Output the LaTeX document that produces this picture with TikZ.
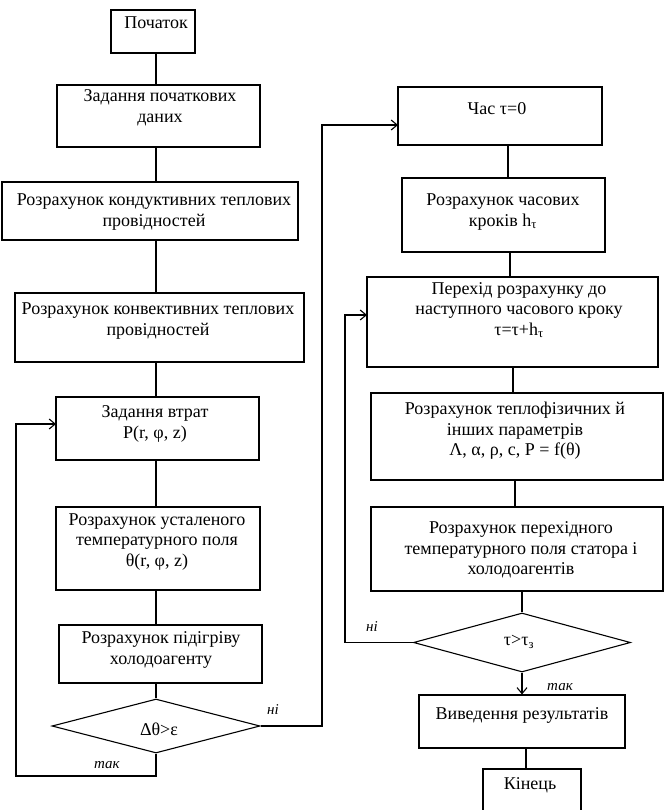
\documentclass[tikz,border=0pt]{standalone}
\usepackage{fontspec}
\setmainfont{Liberation Serif}
\usetikzlibrary{arrows.meta,shapes.geometric}
\begin{document}
\begin{tikzpicture}[x=1pt,y=-1pt, line width=1.1pt,
  box/.style={draw, rectangle, inner sep=0pt},
  dec/.style={draw, diamond, inner sep=0pt},
  txt/.style={align=center, inner sep=0pt, font=\fontsize{18}{20.5}\selectfont},
  lbl/.style={inner sep=0pt, font=\fontsize{15}{17}\selectfont\itshape},
  arr/.style={-{Straight Barb[length=6pt,width=10pt]}}]
\useasboundingbox (0,0) rectangle (664,810);
\fill[white] (0,0) rectangle (664,810);
% left column
\node[box, minimum width=84pt, minimum height=43pt] (p1) at (153,31.5) {};
\node[txt] (t1) at (156,23) {Початок};
\node[box, minimum width=203pt, minimum height=62pt] (p2) at (158.5,116) {};
\node[txt] (t2) at (160,108) {Задання початкових\\даних};
\node[box, minimum width=296pt, minimum height=58pt] (p3) at (150,211) {};
\node[txt] (t3) at (154,212) {Розрахунок кондуктивних теплових\\провідностей};
\node[box, minimum width=289pt, minimum height=69pt] (p4) at (159.5,327.5) {};
\node[txt] (t4) at (158,321) {Розрахунок конвективних теплових\\провідностей};
\node[box, minimum width=203pt, minimum height=63pt] (p5) at (157.5,428.5) {};
\node[txt] (t5) at (155,424) {Задання втрат\\P(r, φ, z)};
\node[box, minimum width=204pt, minimum height=83pt] (p6) at (158,548.5) {};
\node[txt] (t6) at (157,542) {Розрахунок усталеного\\температурного поля\\θ(r, φ, z)};
\node[box, minimum width=203pt, minimum height=58pt] (p7) at (160.5,654) {};
\node[txt] (t7) at (161,650) {Розрахунок підігріву\\холодоагенту};
\node[dec, minimum width=208pt, minimum height=54pt] (d1) at (156,726) {};
\node[txt] (d1t) at (159,729) {Δθ>ε};
% right column
\node[box, minimum width=204pt, minimum height=58pt] (r1) at (500,116) {};
\node[txt] (r1t) at (497,109) {Час τ=0};
\node[box, minimum width=203pt, minimum height=74pt] (r2) at (503.5,215) {};
\node[txt] (r2t) at (503,212) {Розрахунок часових\\кроків h\textsubscript{τ}};
\node[box, minimum width=291pt, minimum height=90pt] (r3) at (512.5,322) {};
\node[txt] (r3t) at (519,310) {Перехід розрахунку до\\наступного часового кроку\\τ=τ+h\textsubscript{τ}};
\node[box, minimum width=292pt, minimum height=87pt] (r4) at (517,436.5) {};
\node[txt] (r4t) at (515,431) {Розрахунок теплофізичних й\\інших параметрів\\Λ, α, ρ, c, P = f(θ)};
\node[box, minimum width=292pt, minimum height=84pt] (r5) at (517,549) {};
\node[txt] (r5t) at (521,550) {Розрахунок перехідного\\температурного поля статора і\\холодоагентів};
\node[dec, minimum width=217pt, minimum height=59pt] (d2) at (522,642.5) {};
\node[txt] (d2t) at (519,642) {τ>τ\textsubscript{з}};
\node[box, minimum width=206pt, minimum height=53pt] (r6) at (522,721.5) {};
\node[txt] (r6t) at (522,715) {Виведення результатів};
\node[box, minimum width=98pt, minimum height=43pt] (r7) at (532,790.5) {};
\node[txt] (r7t) at (530,785) {Кінець};
% column x coordinates
\coordinate (cl) at (156,0);
\coordinate (ca) at (508,0);
\coordinate (cb) at (510,0);
\coordinate (cc) at (513,0);
\coordinate (cd) at (515,0);
\coordinate (ce) at (526,0);
% left connectors
\draw (p1.south -| cl) -- (p2.north -| cl);
\draw (p2.south -| cl) -- (p3.north -| cl);
\draw (p3.south -| cl) -- (p4.north -| cl);
\draw (p4.south -| cl) -- (p5.north -| cl);
\draw (p5.south -| cl) -- (p6.north -| cl);
\draw (p6.south -| cl) -- (p7.north -| cl);
\draw (p7.south -| cl) -- (d1.north);
% right connectors
\draw (r1.south -| ca) -- (r2.north -| ca);
\draw (r2.south -| cb) -- (r3.north -| cb);
\draw (r3.south -| cc) -- (r4.north -| cc);
\draw (r4.south -| cd) -- (r5.north -| cd);
\draw (r5.south -| d2.north) -- (d2.north);
\draw[arr] (d2.south) -- (d2.south |- r6.north);
\draw (r6.south -| ce) -- (r7.north -| ce);
% loops
\coordinate (yb) at (16,776);
\coordinate (ya) at (56,424);
\draw[arr] (d1.south) |- (yb) |- (ya);
\coordinate (nr) at (322,125);
\coordinate (r1in) at (398,125);
\draw[arr] (d1.east) -| (nr) -- (r1in);
\coordinate (nq) at (345,315);
\coordinate (r3in) at (367,315);
\draw[arr] (d2.west) -| (nq) -- (r3in);
% labels
\node[lbl] (l1) at (107,765) {так};
\node[lbl] (l2) at (273,710) {ні};
\node[lbl] (l3) at (372,627) {ні};
\node[lbl] (l4) at (560,687) {так};
\end{tikzpicture}
\end{document}
